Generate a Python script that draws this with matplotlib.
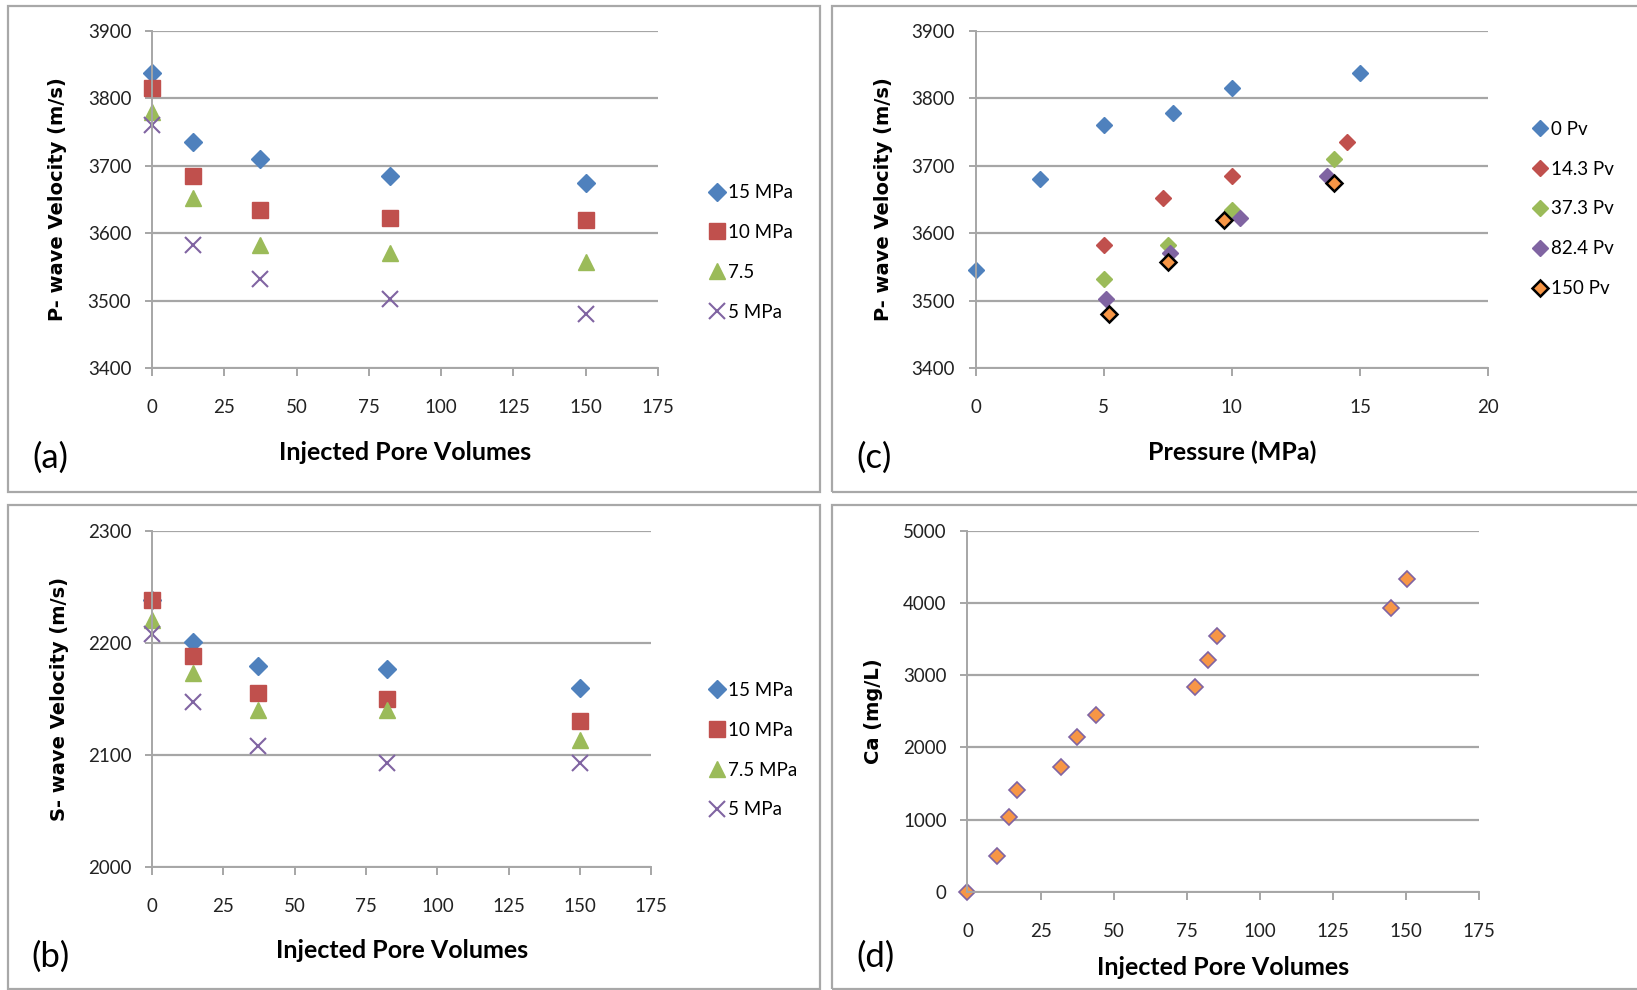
from matplotlib import pyplot as plt
from matplotlib.patches import Rectangle

# ---- data ----
porevolumes = [0, 14.3, 37.3, 82.4, 150]

# (a) P-wave velocity vs injected pore volumes
vp15 = [3838, 3735, 3710, 3685, 3675]
vp10 = [3815, 3685, 3635, 3623, 3620]
vp75 = [3780, 3652, 3582, 3570, 3557]
vp5 = [3760, 3583, 3532, 3503, 3480]

# (b) S-wave velocity vs injected pore volumes (15 MPa at 0 Pv is hidden under the square)
vs15 = [2238, 2201, 2179, 2177, 2160]
vs10 = [2238, 2188, 2155, 2150, 2130]
vs75 = [2220, 2173, 2140, 2140, 2113]
vs5 = [2208, 2147, 2108, 2093, 2093]

# (c) P-wave velocity vs pressure, one series per pore volume
p0 = [0, 2.5, 5, 7.7, 10, 15]
v0 = [3545, 3680, 3760, 3778, 3815, 3838]
p143 = [5, 7.3, 10, 14.5]
v143 = [3583, 3652, 3685, 3735]
p373 = [5, 7.5, 10, 14]
v373 = [3532, 3582, 3635, 3710]
p824 = [5.1, 7.6, 10.3, 13.7]
v824 = [3503, 3570, 3623, 3685]
p150 = [5.2, 7.5, 9.7, 14]
v150 = [3480, 3557, 3620, 3675]

# (d) Ca concentration vs injected pore volumes
capv = [0, 10, 14.3, 17, 32, 37.3, 44, 78, 82.4, 85.5, 145, 150.5]
ca = [0, 500, 1040, 1410, 1730, 2140, 2450, 2830, 3210, 3540, 3930, 4330]

# excel-like colours
blue = '#4F81BD'
red = '#C0504D'
green = '#9BBB59'
purple = '#8064A2'
orange = '#F79646'
grid = '#A6A6A6'

TICKFONT = ['Lato', 'DejaVu Sans']

fig = plt.figure(figsize=(16.37, 9.9), dpi=100)


def styleAxes(ax, xmax, xstep, ymin, ymax, ystep):
    ax.set_xlim(0, xmax)
    ax.set_ylim(ymin, ymax)
    ax.set_xticks(range(0, xmax + 1, xstep))
    ax.set_yticks(range(ymin, ymax + 1, ystep))
    ax.yaxis.grid(True, color=grid, linewidth=1.6)
    ax.set_axisbelow(True)
    for s in ['top', 'right']:
        ax.spines[s].set_visible(False)
    for s in ['left', 'bottom']:
        ax.spines[s].set_color(grid)
        ax.spines[s].set_linewidth(1.4)
    ax.tick_params(axis='x', direction='out', length=6, width=1.4, color=grid, pad=16, labelsize=13.5)
    ax.tick_params(axis='y', direction='out', length=5, width=1.4, color=grid, pad=10, labelsize=13.5)
    for lab in ax.get_xticklabels() + ax.get_yticklabels():
        lab.set_family(TICKFONT)
        lab.set_color('#222222')
    # markers sitting on the axes must not be cut
    for ln in ax.get_lines():
        ln.set_clip_on(False)


def labels(ax, xlab, ylab, xlabY, ylabX):
    ax.set_xlabel(xlab, fontsize=18, fontweight='bold', family=TICKFONT)
    ax.set_ylabel(ylab, fontsize=14, fontweight='bold', family='DejaVu Sans')
    ax.xaxis.set_label_coords(0.5, xlabY)
    ax.yaxis.set_label_coords(ylabX, 0.5)


def legend(ax, x, y):
    ax.legend(loc='center left', bbox_to_anchor=(x, y), frameon=False,
              handlelength=0.9, handletextpad=0.15, labelspacing=1.22, borderaxespad=0,
              prop={'family': TICKFONT, 'size': 13.5})


# ---- (a) ----
axA = fig.add_axes([0.0929, 0.628, 0.309, 0.341])
axA.plot(porevolumes, vp15, 'D', color=blue, ms=9, ls='none', label='15 MPa')
axA.plot(porevolumes, vp10, 's', color=red, ms=12, ls='none', label='10 MPa')
axA.plot(porevolumes, vp75, '^', color=green, ms=12, ls='none', label='7.5')
axA.plot(porevolumes, vp5, 'x', color=purple, ms=11, mew=1.5, ls='none', label='5 MPa')
styleAxes(axA, 175, 25, 3400, 3900, 100)
labels(axA, 'Injected Pore Volumes', 'P- wave Velocity (m/s)', -0.214, -0.168)
legend(axA, 1.085, 0.343)

# ---- (c) ----
axC = fig.add_axes([0.596, 0.628, 0.313, 0.341])
axC.plot(p0, v0, 'D', color=blue, ms=8.5, ls='none', label='0 Pv')
axC.plot(p143, v143, 'D', color=red, ms=8.5, ls='none', label='14.3 Pv')
axC.plot(p373, v373, 'D', color=green, ms=8.5, ls='none', label='37.3 Pv')
axC.plot(p824, v824, 'D', color=purple, ms=8.5, ls='none', label='82.4 Pv')
axC.plot(p150, v150, 'D', color=orange, mec='black', mew=1.8, ms=8, ls='none', label='150 Pv')
styleAxes(axC, 20, 5, 3400, 3900, 100)
labels(axC, 'Pressure (MPa)', 'P- wave Velocity (m/s)', -0.214, -0.162)
legend(axC, 1.07, 0.472)

# ---- (b) ----
axB = fig.add_axes([0.0929, 0.124, 0.305, 0.340])
axB.plot(porevolumes, vs15, 'D', color=blue, ms=9, ls='none', label='15 MPa')
axB.plot(porevolumes, vs10, 's', color=red, ms=12, ls='none', label='10 MPa')
axB.plot(porevolumes, vs75, '^', color=green, ms=12, ls='none', label='7.5 MPa')
axB.plot(porevolumes, vs5, 'x', color=purple, ms=11, mew=1.5, ls='none', label='5 MPa')
styleAxes(axB, 175, 25, 2000, 2300, 100)
labels(axB, 'Injected Pore Volumes', 'S- wave Velocity (m/s)', -0.214, -0.167)
legend(axB, 1.1, 0.348)

# ---- (d) ----
axD = fig.add_axes([0.591, 0.099, 0.3125, 0.365])
axD.plot(capv, ca, 'D', color=orange, mec=purple, mew=1.2, ms=8.5, ls='none')
styleAxes(axD, 175, 25, 0, 5000, 1000)
labels(axD, 'Injected Pore Volumes', 'Ca (mg/L)', -0.177, -0.165)

# panel letters
for x, y, t in [(0.031, 0.538, '(a)'), (0.534, 0.538, '(c)'), (0.031, 0.034, '(b)'), (0.535, 0.034, '(d)')]:
    fig.text(x, y, t, fontsize=25, family=TICKFONT, va='center', ha='center')

# gray frames around each panel
for x0, y0, x1, y1 in [(8, 6, 820, 492), (832, 6, 1645, 492), (8, 505, 820, 989), (832, 505, 1645, 989)]:
    fig.patches.append(Rectangle((x0 / 1637, 1 - y1 / 990), (x1 - x0) / 1637, (y1 - y0) / 990,
                                 transform=fig.transFigure, fill=False, edgecolor='#A8A8A8', linewidth=1.6))

plt.savefig('out.png', dpi=100)
